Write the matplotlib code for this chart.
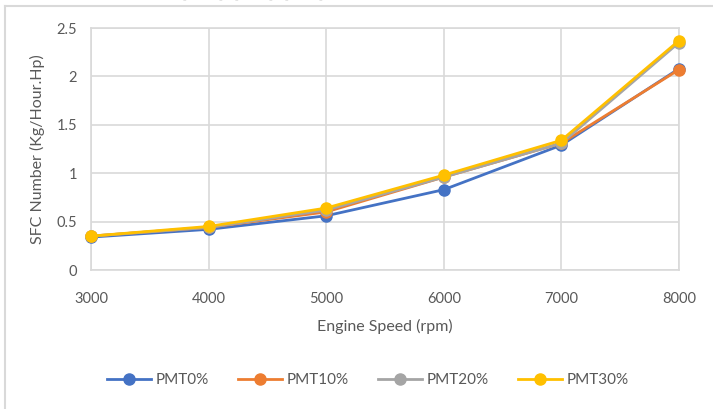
import matplotlib

matplotlib.use("Agg")
import matplotlib.pyplot as plt
from matplotlib.lines import Line2D


ENGINE_SPEED = [3000, 4000, 5000, 6000, 7000, 8000]
PMT0 = [0.34, 0.42, 0.56, 0.83, 1.29, 2.08]
PMT10 = [0.35, 0.44, 0.60, 0.96, 1.31, 2.07]
PMT20 = [0.35, 0.44, 0.62, 0.96, 1.31, 2.35]
PMT30 = [0.35, 0.45, 0.64, 0.98, 1.34, 2.37]
SERIES_LABELS = ["PMT0%", "PMT10%", "PMT20%", "PMT30%"]
Y_TICKS = [0, 0.5, 1, 1.5, 2, 2.5]

COLORS = ["#4472C4", "#ED7D31", "#A5A5A5", "#FFC000"]
TEXT_COLOR = "#595959"
GRID_COLOR = "#D9D9D9"

plt.rcParams["font.family"] = ["Lato", "DejaVu Sans"]

fig = plt.figure(figsize=(7.13, 4.09), dpi=100)
ax = fig.add_axes([91 / 713, 1 - 270 / 409, 588 / 713, 242 / 409])

# outer chart border (left and top visible in the crop)
fig.add_artist(Line2D([5 / 713, 5 / 713], [0, 1 - 6 / 409], transform=fig.transFigure,
                      color=GRID_COLOR, linewidth=1.5))
fig.add_artist(Line2D([5 / 713, 1], [1 - 6 / 409, 1 - 6 / 409], transform=fig.transFigure,
                      color=GRID_COLOR, linewidth=1.5))

# cropped citation brackets at the very top edge (only their feet show)
for x_px, br in [(184, "["), (221, "]"), (236, "["), (271, "]"), (286, "["), (321, "]")]:
    fig.text(x_px / 713, 1 + 1 / 409, br, ha="center", va="baseline", fontsize=11, color="#222222")

for values, label, color in zip([PMT0, PMT10, PMT20, PMT30], SERIES_LABELS, COLORS):
    ax.plot(ENGINE_SPEED, values, color=color, linewidth=2.0, marker="o", markersize=8,
            label=label, clip_on=False, zorder=3)

ax.set_xlim(ENGINE_SPEED[0], ENGINE_SPEED[-1])
ax.set_ylim(0, 2.5)
ax.set_xticks(ENGINE_SPEED)
ax.set_yticks(Y_TICKS)
ax.set_yticklabels([f"{t:g}" for t in Y_TICKS])
ax.grid(True, color=GRID_COLOR, linewidth=1.2)
ax.set_axisbelow(True)
for side in ["left", "top", "right", "bottom"]:
    ax.spines[side].set_color(GRID_COLOR)
    ax.spines[side].set_linewidth(1.2)
ax.tick_params(axis="x", length=0, labelsize=10.5, colors=TEXT_COLOR, pad=16)
ax.tick_params(axis="y", length=0, labelsize=10.5, colors=TEXT_COLOR, pad=10)

ax.set_xlabel("Engine Speed (rpm)", fontsize=11.5, color=TEXT_COLOR, labelpad=9)
ax.set_ylabel("SFC Number (Kg/Hour.Hp)", fontsize=11.5, color=TEXT_COLOR, labelpad=8)

ax.legend(loc="center", bbox_to_anchor=(368 / 713, 1 - 380 / 409), bbox_transform=fig.transFigure,
          ncol=4, frameon=False, fontsize=11, labelcolor=TEXT_COLOR, handlelength=2.9,
          columnspacing=1.9, handletextpad=0.3)

fig.savefig("out.png", dpi=100)
plt.close(fig)
